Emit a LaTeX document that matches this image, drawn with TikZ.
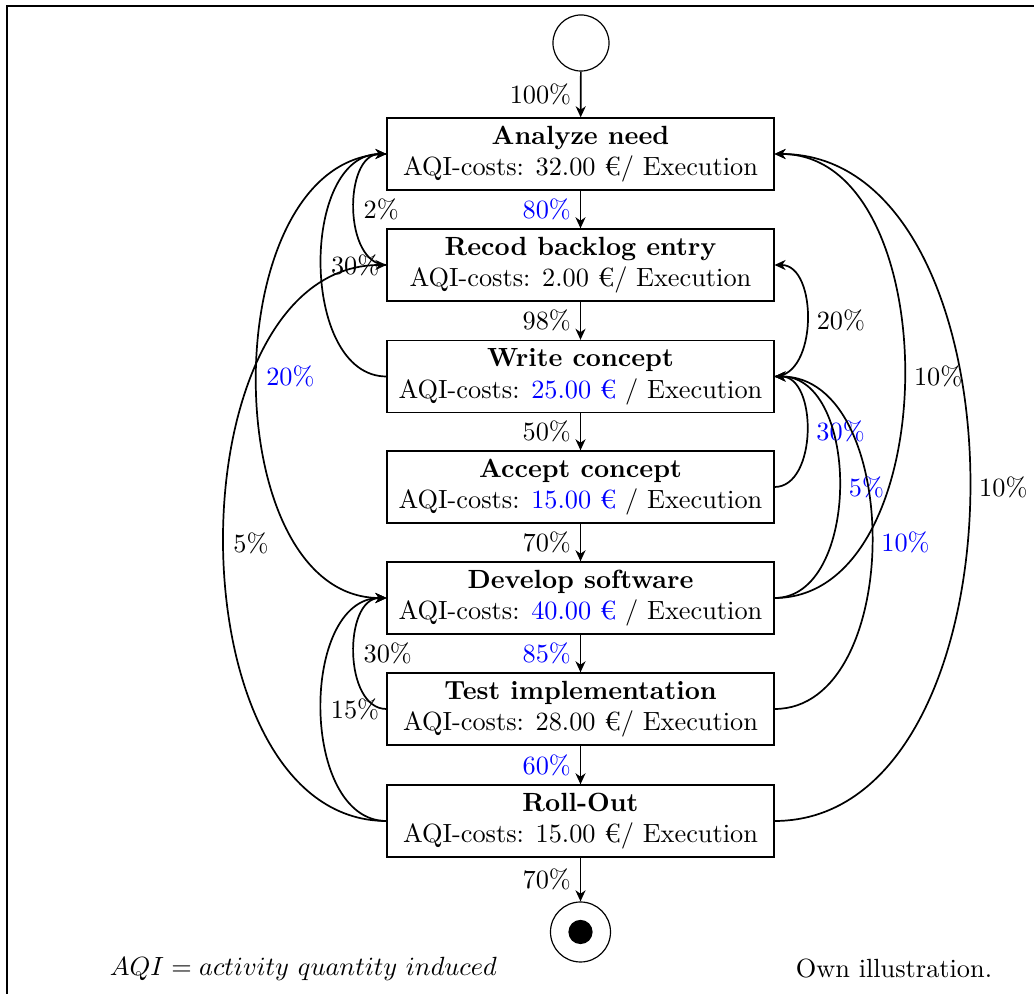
\documentclass[tikz,border=0pt]{standalone}
\usepackage{fontspec}
\usetikzlibrary{arrows.meta}
\begin{document}
\begin{tikzpicture}[x=0.38pt,y=-0.38pt,
  act/.style={draw,line width=0.45pt,minimum width=147pt,minimum height=27.4pt,inner xsep=2pt,inner ysep=2pt,align=center,font=\fontsize{10pt}{12pt}\selectfont},
  flow/.style={line width=0.65pt,-{Stealth[length=4.2pt,width=3.8pt,inset=1.3pt]}},
  lab/.style={font=\fontsize{10pt}{12pt}\selectfont},
  bl/.style={text=blue}]
\useasboundingbox (0,0) rectangle (1034,994);
\draw[line width=0.5pt] (7,994) -- (7,6) -- (1034,6);

\node[circle,draw,line width=0.45pt,minimum size=21.3pt,inner sep=0pt] (s) at (581,43) {};
\node[act] (an) at (580.5,154) {\textbf{Analyze need}\\AQI-costs: 32.00 €/ Execution};
\node[act] (rb) at (580.5,265) {\textbf{Recod backlog entry}\\AQI-costs: 2.00 €/ Execution};
\node[act] (wc) at (580.5,376.5) {\textbf{Write concept}\\AQI-costs: {\color{blue}25.00 €} / Execution};
\node[act] (ac) at (580.5,487) {\textbf{Accept concept}\\AQI-costs: {\color{blue}15.00 €} / Execution};
\node[act] (ds) at (580.5,598) {\textbf{Develop software}\\AQI-costs: {\color{blue}40.00 €} / Execution};
\node[act] (ti) at (580.5,709) {\textbf{Test implementation}\\AQI-costs: 28.00 €/ Execution};
\node[act] (ro) at (580.5,821) {\textbf{Roll-Out}\\AQI-costs: 15.00 €/ Execution};
\node[circle,draw,line width=0.45pt,minimum size=22.8pt,inner sep=0pt] (e) at (580.5,932) {};
\fill (e.center) circle (4.6pt);

% main chain
\draw[flow] (s) -- node[lab,left]{100\%} (an);
\draw[flow] (an) -- node[lab,left,bl]{80\%} (rb);
\draw[flow] (rb) -- node[lab,left]{98\%} (wc);
\draw[flow] (wc) -- node[lab,left]{50\%} (ac);
\draw[flow] (ac) -- node[lab,left]{70\%} (ds);
\draw[flow] (ds) -- node[lab,left,bl]{85\%} (ti);
\draw[flow] (ti) -- node[lab,left,bl]{60\%} (ro);
\draw[flow] (ro) -- node[lab,left]{70\%} (e);

% left loops
\draw[flow] (rb.west) to[out=180,in=180] node[lab,right]{2\%} (an.west);
\draw[flow] (wc.west) to[out=180,in=180] node[lab,right]{30\%} (an.west);
\draw[flow] (an.west) to[out=180,in=180] node[lab,right,bl]{20\%} (ds.west);
\draw[flow] (ro.west) to[out=180,in=180] node[lab,right]{5\%} (rb.west);
\draw[flow] (ti.west) to[out=180,in=180] node[lab,right]{30\%} (ds.west);
\draw[flow] (ro.west) to[out=180,in=180] node[lab,right]{15\%} (ds.west);

% right loops
\draw[flow] (wc.east) to[out=0,in=0] node[lab,right]{20\%} (rb.east);
\draw[flow] (ac.east) to[out=0,in=0] node[lab,right,bl]{30\%} (wc.east);
\draw[flow] (ds.east) to[out=0,in=0] node[lab,right,bl]{5\%} (wc.east);
\draw[flow] (ti.east) to[out=0,in=0] node[lab,right,bl]{10\%} (wc.east);
\draw[flow] (ds.east) to[out=0,in=0] node[lab,right]{10\%} (an.east);
\draw[flow] (ro.east) to[out=0,in=0] node[lab,right]{10\%} (an.east);

\node[lab] (legend) at (303.5,969) {$AQI = activity\ quantity\ induced$};
\node[lab] (source) at (894,969) {Own illustration.};
\end{tikzpicture}
\end{document}
